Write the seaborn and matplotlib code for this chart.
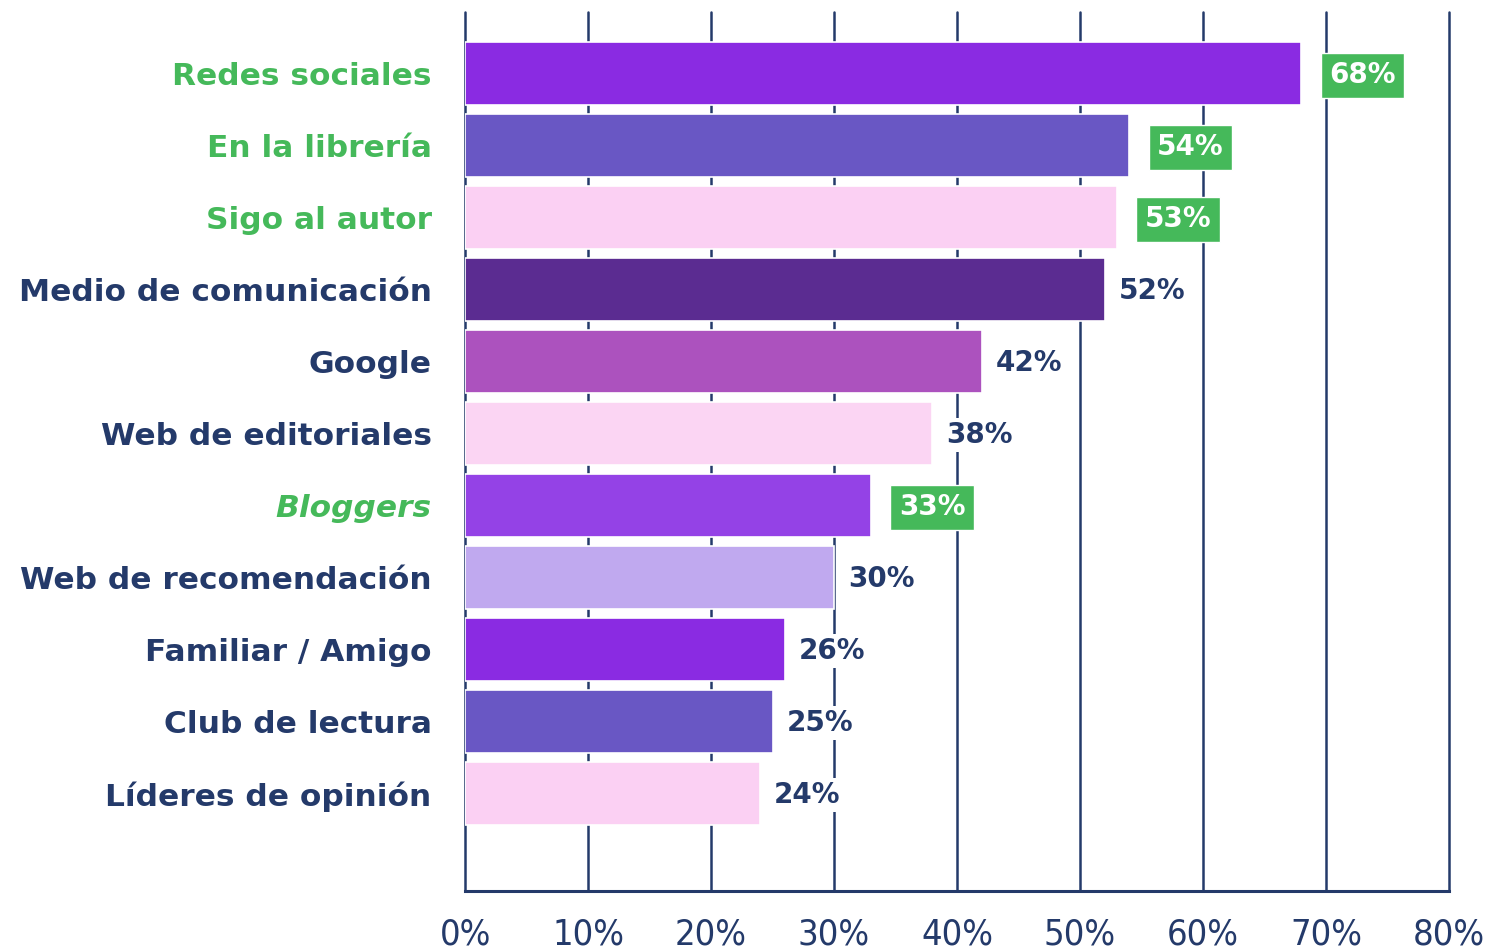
import matplotlib
matplotlib.use('Agg')
import matplotlib.pyplot as plt
import seaborn as sns
import pandas as pd

# data
categories = ['Redes sociales', 'En la librería', 'Sigo al autor', 'Medio de comunicación',
              'Google', 'Web de editoriales', 'Bloggers', 'Web de recomendación',
              'Familiar / Amigo', 'Club de lectura', 'Líderes de opinión']
values = [68, 54, 53, 52, 42, 38, 33, 30, 26, 25, 24]
bar_colors = ['#8a2be2', '#6957c4', '#fbd0f3', '#5b2c91', '#ac52be', '#fbd5f3',
              '#9442e6', '#c0a9ef', '#8a2be2', '#6957c4', '#fbd0f3']
highlight = [True, True, True, False, False, False, True, False, False, False, False]
xticks = [0, 10, 20, 30, 40, 50, 60, 70, 80]

navy = '#243a6a'
green = '#45b95a'

sns.set_theme(style='white')
plt.rcParams['font.family'] = ['DejaVu Sans']

df = pd.DataFrame({'canal': categories, 'pct': values})

fig, ax = plt.subplots(figsize=(15.08, 9.52), dpi=100)
fig.subplots_adjust(left=0.3084, right=0.9609, top=0.9874, bottom=0.0641)

sns.barplot(data=df, x='pct', y='canal', hue='canal', palette=bar_colors, legend=False,
            width=0.875, saturation=1, edgecolor='white', linewidth=1.2, ax=ax, zorder=3)

ax.set_xlim(0, 80)
ax.set_ylim(11.35, -0.86)
ax.set_xlabel('')
ax.set_ylabel('')

# vertical grid lines behind the bars
ax.set_axisbelow(True)
ax.xaxis.grid(True, color=navy, linewidth=1.8)
ax.yaxis.grid(False)
for gl in ax.xaxis.get_gridlines():
    gl.set_clip_on(False)
for s in ['top', 'right', 'left']:
    ax.spines[s].set_visible(False)
ax.spines['bottom'].set_color(navy)
ax.spines['bottom'].set_linewidth(2.2)

ax.set_xticks(xticks)
ax.set_xticklabels([f'{t}%' for t in xticks], fontsize=26, color=navy,
                   fontstretch='condensed')
ax.tick_params(axis='x', length=0, pad=19)
ax.tick_params(axis='y', length=0, pad=24)
for gl in ax.xaxis.get_gridlines():
    gl.set_clip_on(False)

for lab, hl in zip(ax.get_yticklabels(), highlight):
    lab.set_fontsize(22.5)
    lab.set_fontweight('bold')
    lab.set_color(green if hl else navy)
    if lab.get_text() == 'Bloggers':
        lab.set_style('italic')

# value labels
for i, (v, hl) in enumerate(zip(values, highlight)):
    if hl:
        ax.annotate(f'{v}%', xy=(v, i), xytext=(20, -1), textcoords='offset points',
                    ha='left', va='center', fontsize=20, fontweight='bold', color='white',
                    bbox=dict(boxstyle='square,pad=0.3', fc=green, ec='white', lw=1),
                    zorder=5)
    else:
        ax.annotate(f'{v}%', xy=(v, i), xytext=(10, -1), textcoords='offset points',
                    ha='left', va='center', fontsize=20, fontweight='bold', color=navy,
                    bbox=dict(boxstyle='square,pad=0.1', fc='white', ec='none'),
                    zorder=5)

plt.savefig('out.png', dpi=100)
